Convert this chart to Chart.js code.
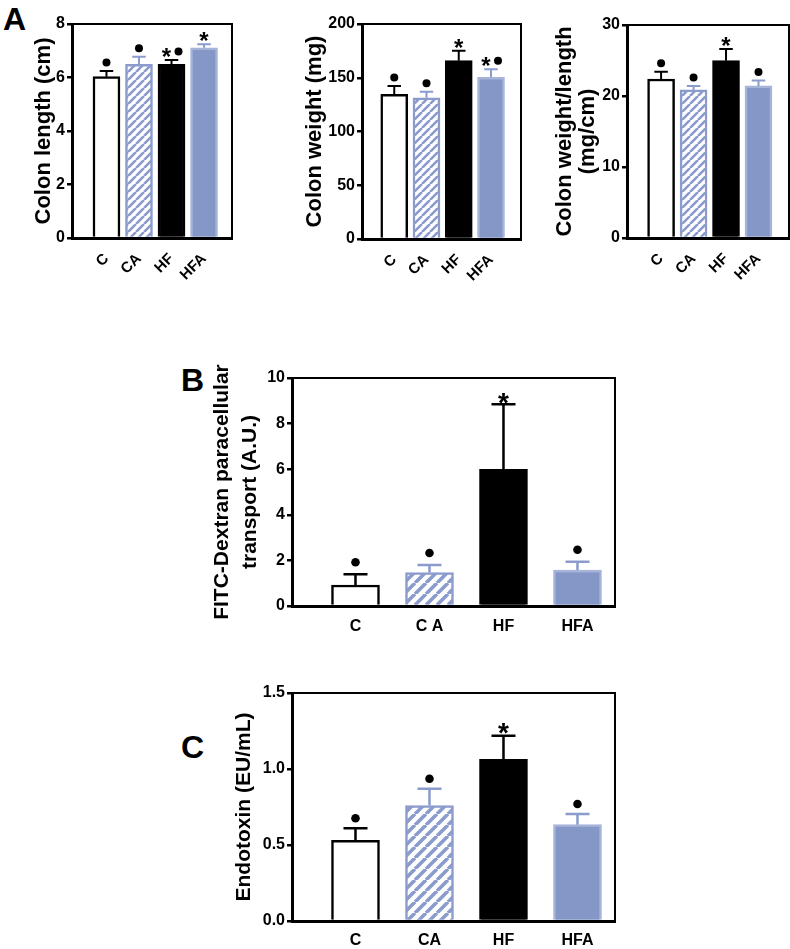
<!DOCTYPE html>
<html><head><meta charset="utf-8">
<script src="https://cdn.jsdelivr.net/npm/chart.js@4/dist/chart.umd.min.js"></script>
<style>
html,body{margin:0;padding:0;background:#fff;}
body{width:790px;height:949px;position:relative;overflow:hidden;font-family:"Liberation Sans",Arial,sans-serif;}
canvas{position:absolute;}
.lbl{position:absolute;font-weight:bold;font-size:32px;line-height:1;color:#000;}
</style></head><body>
<div class="lbl" style="left:3px;top:3px">A</div>
<div class="lbl" style="left:181px;top:364px">B</div>
<div class="lbl" style="left:181px;top:731px">C</div>
<canvas id="a1" width="240" height="300" style="left:0px;top:0px"></canvas>
<canvas id="a2" width="258" height="300" style="left:270px;top:0px"></canvas>
<canvas id="a3" width="260" height="300" style="left:530px;top:0px"></canvas>
<canvas id="b" width="430" height="320" style="left:195px;top:330px"></canvas>
<canvas id="c" width="430" height="289" style="left:195px;top:660px"></canvas>
<script>
// ---------- data ----------
const categoriesA = ['C', 'CA', 'HF', 'HFA'];
const categoriesB = ['C', 'C A', 'HF', 'HFA'];
const categoriesC = ['C', 'CA', 'HF', 'HFA'];

const colonLength = [6.03, 6.49, 6.49, 7.11];
const colonLengthErr = [0.21, 0.29, 0.16, 0.13];
const colonLengthMarks = ['dot', 'dot', 'star-dot', 'star'];
const colonLengthTicks = [0, 8, 2];

const colonWeight = [134.6, 131.4, 165.9, 150.4];
const colonWeightErr = [7.7, 5.6, 9.3, 7.4];
const colonWeightMarks = ['dot', 'dot', 'star', 'star-dot'];
const colonWeightTicks = [0, 200, 50];

const weightPerLength = [22.4, 20.86, 24.98, 21.42];
const weightPerLengthErr = [1.03, 0.56, 1.64, 0.75];
const weightPerLengthMarks = ['dot', 'dot', 'star', 'dot'];
const weightPerLengthTicks = [0, 30, 10];

const fitcDextran = [0.92, 1.47, 5.99, 1.58];
const fitcDextranErr = [0.47, 0.33, 2.86, 0.36];
const fitcDextranMarks = ['dot', 'dot', 'star', 'dot'];
const fitcDextranTicks = [0, 10, 2];

const endotoxin = [0.53, 0.76, 1.064, 0.634];
const endotoxinErr = [0.08, 0.11, 0.155, 0.07];
const endotoxinMarks = ['dot', 'dot', 'star', 'dot'];
const endotoxinTicks = [0, 1.5, 0.5];

// ---------- styles ----------
const FONT = '"Liberation Sans", Arial, sans-serif';
Chart.defaults.color = '#000';
Chart.defaults.font.family = FONT;
const BLUE_LINE = '#8A9BCC';
const BLUE_FILL = '#8597C7';
const BLUE_EDGE = '#A6B4DA';

function hatch(period, width) {
  const c = document.createElement('canvas');
  c.width = period; c.height = period;
  const g = c.getContext('2d');
  g.fillStyle = '#fff'; g.fillRect(0, 0, period, period);
  g.strokeStyle = BLUE_LINE; g.lineWidth = width;
  g.beginPath();
  for (const k of [-period, 0, period]) { g.moveTo(k, period); g.lineTo(k + period, 0); }
  g.stroke();
  return g.createPattern(c, 'repeat');
}

const marksPlugin = {
  id: 'errMarks',
  afterDatasetsDraw(chart, args, o) {
    const ctx = chart.ctx, ys = chart.scales.y;
    const meta = chart.getDatasetMeta(0), ds = chart.data.datasets[0];
    ctx.save();
    meta.data.forEach((bar, i) => {
      const v = ds.data[i].y, e = o.errors[i];
      const yB = ys.getPixelForValue(v), yT = ys.getPixelForValue(v + e);
      const half = bar.width / 4;
      ctx.strokeStyle = o.errColors[i]; ctx.lineWidth = o.errWidth; ctx.lineCap = 'butt';
      ctx.beginPath();
      ctx.moveTo(bar.x, yB); ctx.lineTo(bar.x, yT);
      ctx.moveTo(bar.x - half, yT); ctx.lineTo(bar.x + half, yT);
      ctx.stroke();
      const m = o.marks[i];
      ctx.fillStyle = '#000';
      const drawDot = (x, cy) => { ctx.beginPath(); ctx.arc(x, cy, o.dotR, 0, Math.PI * 2); ctx.fill(); };
      const drawStar = (x, cy) => {
        ctx.font = 'bold ' + o.starSize + 'px ' + FONT;
        ctx.textAlign = 'center'; ctx.textBaseline = 'alphabetic';
        ctx.fillText('*', x, cy + 0.56 * o.starSize);
      };
      if (m === 'dot') drawDot(bar.x, yT - o.dotOff);
      else if (m === 'star') drawStar(bar.x, yT - o.starOff);
      else if (m === 'star-dot') { drawStar(bar.x - o.pairGap[0], yT - o.starOff); drawDot(bar.x + o.pairGap[1], yT - o.dotOff); }
    });
    ctx.restore();
  },
  afterDraw(chart) {
    const ctx = chart.ctx, a = chart.chartArea;
    ctx.save(); ctx.strokeStyle = '#000'; ctx.lineWidth = 2;
    ctx.beginPath();
    ctx.moveTo(a.left, a.top); ctx.lineTo(a.right, a.top); ctx.lineTo(a.right, a.bottom);
    ctx.stroke(); ctx.restore();
  }
};

function makeChart(id, cfg) {
  const ctx = document.getElementById(id).getContext('2d');
  const pat = hatch(cfg.hatchPeriod, cfg.hatchWidth);
  return new Chart(ctx, {
    type: 'bar',
    data: {
      datasets: [{
        data: cfg.values.map((v, i) => ({x: i, y: v})),
        backgroundColor: ['#fff', pat, '#000', BLUE_FILL],
        borderColor: ['#000', BLUE_LINE, '#000', BLUE_EDGE],
        borderWidth: cfg.barBorder,
        barThickness: cfg.barThickness
      }]
    },
    options: {
      responsive: false, animation: false,
      layout: {padding: {top: cfg.padTop, right: cfg.padRight, left: 0, bottom: 0}},
      plugins: {
        legend: {display: false}, tooltip: {enabled: false},
        errMarks: {
          errors: cfg.errors, marks: cfg.marks,
          errColors: ['#000', BLUE_LINE, '#000', BLUE_LINE],
          errWidth: cfg.errWidth, dotR: cfg.dotR, dotOff: cfg.dotOff,
          starOff: cfg.starOff, starSize: cfg.starSize, pairGap: [5, 7]
        }
      },
      scales: {
        x: {
          type: 'linear', min: cfg.xRange[0], max: cfg.xRange[1], bounds: 'data', offset: false,
          grid: {display: false, drawTicks: false, offset: false},
          border: {display: true, color: '#000', width: 3},
          afterBuildTicks: s => { s.ticks = cfg.categories.map((_, i) => ({value: i})); },
          afterFit: s => { s.height = cfg.xHeight; },
          ticks: {
            autoSkip: false, minRotation: cfg.rot, maxRotation: cfg.rot, padding: cfg.xPad,
            font: {size: cfg.xFont, weight: 'bold'},
            callback: v => cfg.categories[v]
          }
        },
        y: {
          min: cfg.ticks[0], max: cfg.ticks[1],
          grid: {display: true, drawOnChartArea: false, drawTicks: true, tickLength: 5, lineWidth: 2.5, color: '#000'},
          border: {display: true, color: '#000', width: 3},
          afterFit: s => { s.width = cfg.yWidth; },
          ticks: {
            stepSize: cfg.ticks[2], padding: 2,
            font: {size: cfg.yFont, weight: 'bold'},
            callback: cfg.tickFmt || (v => v)
          },
          title: {
            display: true, text: cfg.title,
            font: {size: cfg.titleSize, weight: 'bold', lineHeight: cfg.titleLH},
            padding: {top: cfg.titlePad, bottom: 0}
          }
        }
      }
    },
    plugins: [marksPlugin]
  });
}

const rowA = {
  categories: categoriesA, rot: 45, xFont: 15, xPad: 12, yFont: 16,
  hatchPeriod: 8, hatchWidth: 2.6, barBorder: 2.5, barThickness: 27,
  errWidth: 2, dotR: 4, dotOff: 8.5, starOff: 8.5, starSize: 24, titleSize: 22, titleLH: 1.1
};

makeChart('a1', Object.assign({}, rowA, {
  values: colonLength, errors: colonLengthErr, marks: colonLengthMarks, ticks: colonLengthTicks,
  title: 'Colon length (cm)', xRange: [-1.06, 3.86],
  padTop: 24, padRight: 8, xHeight: 62, yWidth: 72, titlePad: 32
}));
makeChart('a2', Object.assign({}, rowA, {
  values: colonWeight, errors: colonWeightErr, marks: colonWeightMarks, ticks: colonWeightTicks,
  title: 'Colon weight (mg)', xRange: [-1.0, 3.93],
  padTop: 24, padRight: 7, xHeight: 61, yWidth: 92, titlePad: 33
}));
makeChart('a3', Object.assign({}, rowA, {
  values: weightPerLength, errors: weightPerLengthErr, marks: weightPerLengthMarks, ticks: weightPerLengthTicks,
  title: ['Colon weight/length', '(mg/cm)'], xRange: [-1.05, 3.94], titleLH: 1.05,
  padTop: 25, padRight: 1, xHeight: 62, yWidth: 97, titlePad: 23
}));

const rowBC = {
  rot: 0, xFont: 16, yFont: 16,
  hatchPeriod: 11, hatchWidth: 3.6, barBorder: 2.5, barThickness: 48,
  errWidth: 2.5, dotR: 4.3, starSize: 28, titleSize: 21,
  xRange: [-0.858, 3.507], padRight: 10, yWidth: 97
};
makeChart('b', Object.assign({}, rowBC, {
  categories: categoriesB, values: fitcDextran, errors: fitcDextranErr, marks: fitcDextranMarks, ticks: fitcDextranTicks,
  title: ['FITC-Dextran paracellular', 'transport (A.U.)'], titleLH: 1.33, xPad: 11,
  padTop: 48, xHeight: 44, titlePad: 13.5, dotOff: 12, starOff: 7.5
}));
makeChart('c', Object.assign({}, rowBC, {
  categories: categoriesC, values: endotoxin, errors: endotoxinErr, marks: endotoxinMarks, ticks: endotoxinTicks,
  title: 'Endotoxin (EU/mL)', titleLH: 1.2, tickFmt: v => v.toFixed(1), xPad: 10,
  padTop: 33, xHeight: 28, titlePad: 36.4, dotOff: 10, starOff: 9
}));
</script>
</body></html>
